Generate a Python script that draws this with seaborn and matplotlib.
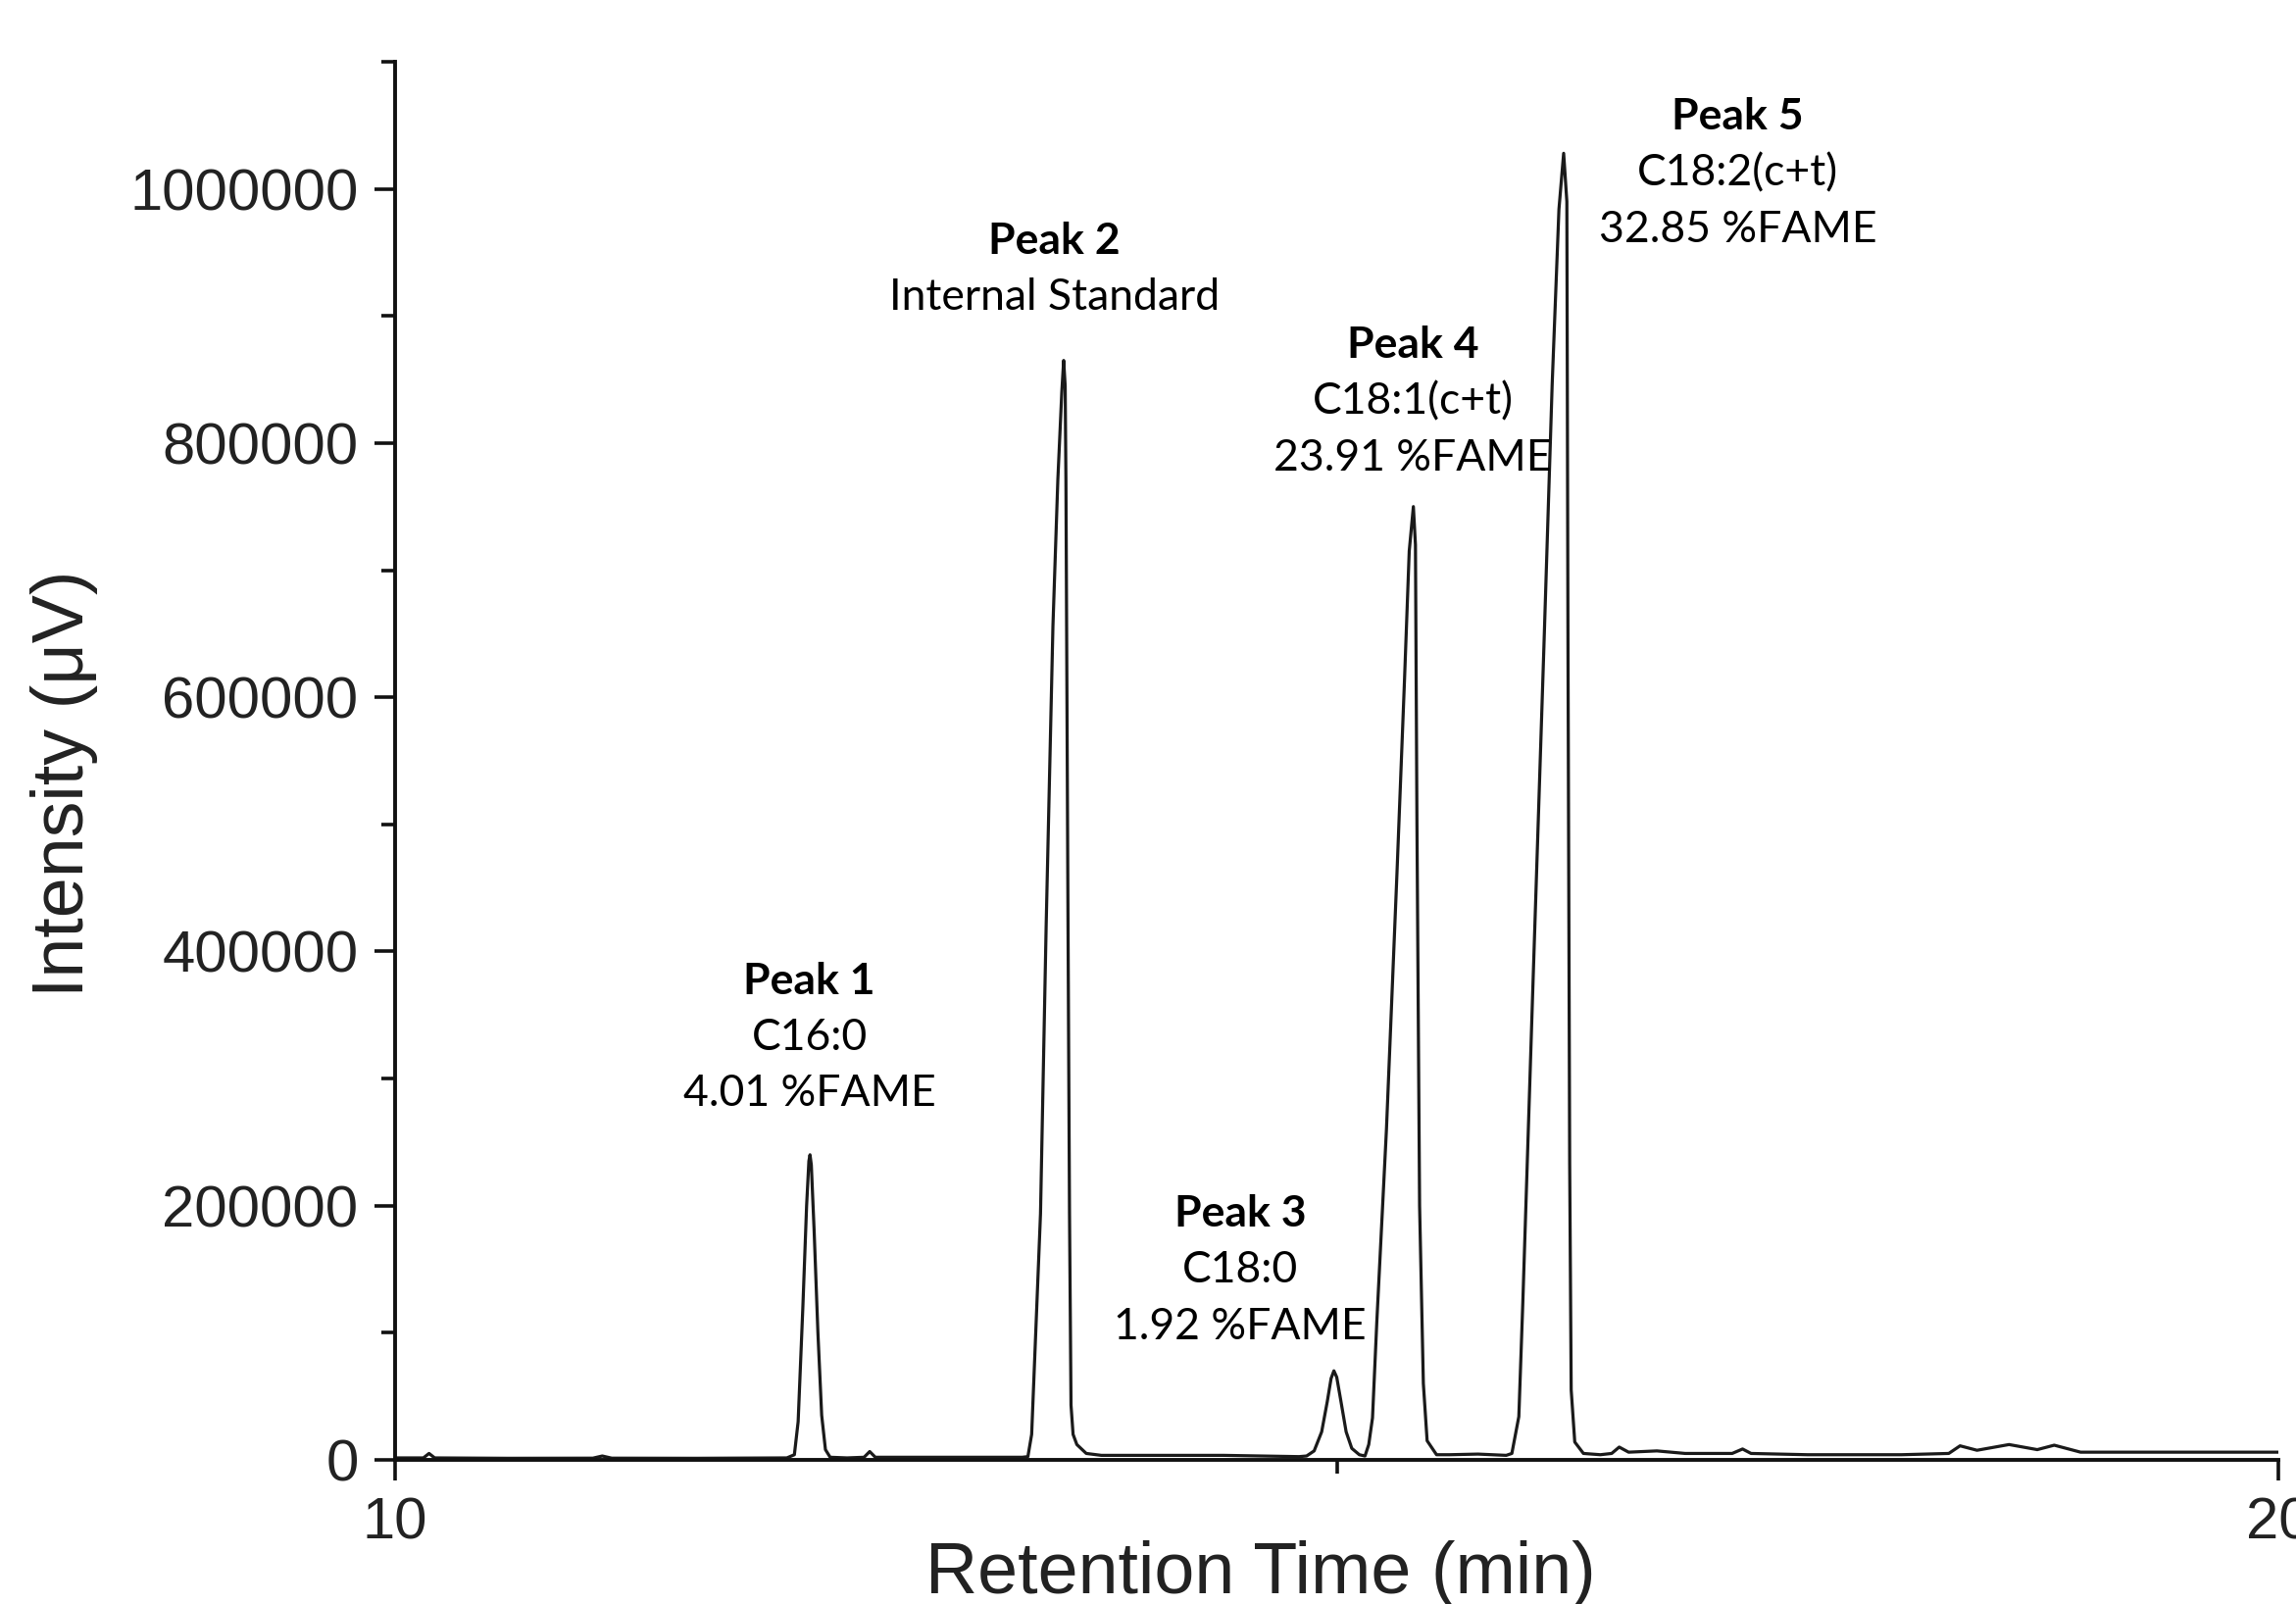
import pandas as pd
import matplotlib.pyplot as plt
import seaborn as sns
from matplotlib.ticker import MultipleLocator, StrMethodFormatter

# GC-FID trace, points (retention time in min, intensity in uV)
time = [10.00, 10.15, 10.18, 10.21, 10.60, 11.05, 11.10, 11.15, 11.60, 12.08,
        12.12, 12.14, 12.165, 12.185, 12.197, 12.203, 12.21, 12.225, 12.245, 12.265, 12.285, 12.31,
        12.40, 12.49, 12.52, 12.55, 12.80, 13.10, 13.33,
        13.36, 13.38, 13.427, 13.457, 13.493, 13.519, 13.54, 13.55, 13.558, 13.562, 13.573, 13.581,
        13.589, 13.60, 13.62, 13.67, 13.75,
        14.00, 14.40, 14.80,
        14.84, 14.88, 14.92, 14.95, 14.97, 14.985, 15.00, 15.02, 15.05, 15.08, 15.12, 15.15,
        15.17, 15.19, 15.213, 15.264, 15.32, 15.36, 15.385, 15.407, 15.418, 15.426, 15.44, 15.46,
        15.48, 15.53,
        15.60, 15.75, 15.90,
        15.93, 15.967, 15.988, 16.04, 16.10, 16.144, 16.18, 16.205, 16.222, 16.228, 16.237, 16.245,
        16.264, 16.31,
        16.40, 16.46, 16.50, 16.55, 16.70, 16.85, 17.10, 17.155, 17.20, 17.50, 18.00, 18.25, 18.31,
        18.40, 18.57, 18.72, 18.81, 18.95, 19.30, 20.00]

intensity = [1500, 1500, 5000, 1500, 1200, 1300, 3000, 1300, 1200, 1500,
             4000, 30000, 120000, 200000, 235000, 240000, 232000, 180000, 100000, 35000, 8000, 2000,
             1500, 2000, 6500, 2000, 2000, 2000, 2000,
             2500, 20000, 193700, 420000, 656000, 771000, 840000, 865000, 845000, 771000, 424000, 193700,
             43000, 20000, 12000, 5000, 3500,
             3500, 3500, 2500,
             3000, 7000, 22000, 46000, 64000, 70000, 65000, 48000, 22000, 9000, 4000, 3000,
             12000, 33000, 109000, 260000, 462000, 614000, 715000, 750000, 720000, 500000, 200000, 60000,
             15000, 4000,
             4000, 4500, 3500,
             5000, 34000, 123000, 365000, 639000, 846000, 984000, 1028000, 990000, 639000, 233000, 55000,
             14000, 5000,
             4000, 5000, 10000, 6000, 7000, 5000, 5000, 8500, 5000, 4000, 4000, 5000, 11000,
             7500, 12000, 8000, 11500, 6000, 6000, 6000]

peak_titles = ["Peak 1", "Peak 2", "Peak 3", "Peak 4", "Peak 5"]
peak_names = ["C16:0", "Internal Standard", "C18:0", "C18:1(c+t)", "C18:2(c+t)"]
peak_fame = ["4.01 %FAME", "", "1.92 %FAME", "23.91 %FAME", "32.85 %FAME"]

# where each label block starts (centre of first line, data coords)
label_x = [12.20, 13.50, 14.487, 15.404, 17.13]
label_y = [376700, 958500, 193500, 876700, 1056500]

df = pd.DataFrame({"time": time, "intensity": intensity})

sns.set_theme(style="ticks")
plt.rcParams["font.family"] = ["Liberation Sans", "DejaVu Sans"]

fig = plt.figure(figsize=(23.42, 16.36), dpi=100)
ax = fig.add_axes([0.1721, 0.0899, 0.8202, 0.8716])

sns.lineplot(data=df, x="time", y="intensity", sort=False, estimator=None,
             color="#1a1a1a", linewidth=2.3, ax=ax)

ax.set_xlim(10, 20)
ax.set_ylim(0, 1100000)
ax.xaxis.set_major_locator(MultipleLocator(10))
ax.xaxis.set_minor_locator(MultipleLocator(5))
ax.yaxis.set_major_locator(MultipleLocator(200000))
ax.yaxis.set_minor_locator(MultipleLocator(100000))
ax.yaxis.set_major_formatter(StrMethodFormatter("{x:.0f}"))
ax.xaxis.set_major_formatter(StrMethodFormatter("{x:.0f}"))

sns.despine(ax=ax)
for side in ["left", "bottom"]:
    ax.spines[side].set_linewidth(2.8)
    ax.spines[side].set_color("#111111")

ax.tick_params(which="major", direction="out", length=15, width=2.6, color="#111111",
               labelsize=43, labelcolor="#222222", pad=12)
ax.tick_params(which="minor", direction="out", length=10, width=2.6, color="#111111")

ax.set_xlabel("Retention Time (min)", fontsize=53, color="#222222")
ax.set_ylabel("Intensity (μV)", fontsize=53, color="#222222")
ax.xaxis.set_label_coords(0.4596, -0.0575)
ax.yaxis.set_label_coords(-0.158, 0.484)

line_gap = 41.4  # points between annotation lines
for i in range(len(peak_titles)):
    lines = [peak_titles[i], peak_names[i], peak_fame[i]]
    for j, txt in enumerate(lines):
        if not txt:
            continue
        ax.annotate(txt, xy=(label_x[i], label_y[i]), xytext=(0, -j * line_gap),
                    textcoords="offset points", ha="center", va="center",
                    fontsize=32, family="Lato", color="black",
                    fontweight="bold" if j == 0 else "normal")

fig.savefig("out.png", dpi=100)
